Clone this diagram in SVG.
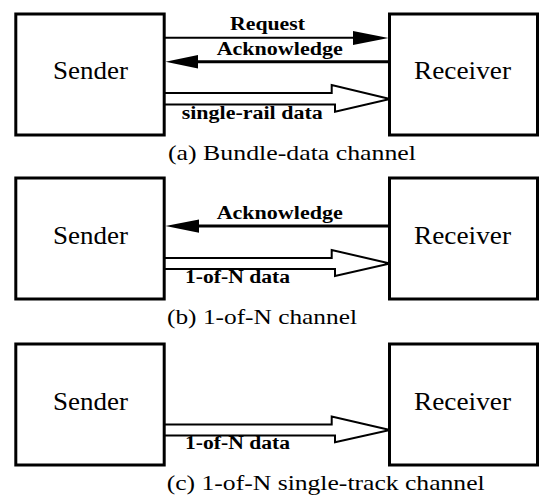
<svg xmlns="http://www.w3.org/2000/svg" width="539" height="500" viewBox="0 0 539 500">
<style>
.box{fill:#fff;stroke:#000;stroke-width:3}
text{font-family:'Liberation Serif','Times New Roman','DejaVu Serif',serif;fill:#000}
.name{font-size:25px}
.cap{font-size:22px}
.lbl{font-size:18px;font-weight:bold}
.thin{stroke:#000;stroke-width:2;fill:none}
.thick{stroke:#000;stroke-width:3;fill:none}
.head{fill:#000;stroke:none}
.hollow{fill:none;stroke:#000;stroke-width:2;stroke-linejoin:miter;stroke-miterlimit:10}
</style>
<rect width="539" height="500" fill="#fff"/>
<g id="connectors">
  <line class="thin" x1="165" y1="37.7" x2="355" y2="37.7"/>
  <polygon class="head" points="353,31 388.5,38 353,45"/>
  <line class="thick" x1="196" y1="61.7" x2="389" y2="61.7"/>
  <polygon class="head" points="165.5,61.7 198,55 198,68.4"/>
  <polyline class="hollow" points="165,93 331.7,93 331.7,85 390,99 335,111.7 335,104.5 165,104.5"/>
  <line class="thick" x1="196" y1="226" x2="389" y2="226"/>
  <polygon class="head" points="165.5,226 199,219.5 199,232.7"/>
  <polyline class="hollow" points="165,258 331.7,258 331.7,250 390,263.5 335,276 335,269 165,269"/>
  <polyline class="hollow" points="165,424.5 331.7,424.5 331.7,416.5 390,430 335,442.3 335,435.5 165,435.5"/>
</g>
<g id="labels">
  <text class="lbl" x="230" y="29.5" textLength="75" lengthAdjust="spacingAndGlyphs">Request</text>
  <text class="lbl" x="216.7" y="54.5" textLength="126" lengthAdjust="spacingAndGlyphs">Acknowledge</text>
  <text class="lbl" x="181.7" y="118.5" textLength="141" lengthAdjust="spacingAndGlyphs">single-rail data</text>
  <text class="lbl" x="216.7" y="218.5" textLength="126" lengthAdjust="spacingAndGlyphs">Acknowledge</text>
  <text class="lbl" x="185" y="282.5" textLength="105" lengthAdjust="spacingAndGlyphs">1-of-N data</text>
  <text class="lbl" x="185" y="448.5" textLength="105" lengthAdjust="spacingAndGlyphs">1-of-N data</text>
</g>
<g id="sender-a"><rect class="box" x="15.8" y="14" width="148.4" height="121"/><text class="name" x="53" y="79" textLength="75" lengthAdjust="spacingAndGlyphs">Sender</text></g>
<g id="receiver-a"><rect class="box" x="389.5" y="14" width="148" height="121"/><text class="name" x="414" y="79" textLength="97" lengthAdjust="spacingAndGlyphs">Receiver</text></g>
<g id="caption-a"><text class="cap" x="168" y="160" textLength="248" lengthAdjust="spacingAndGlyphs">(a) Bundle-data channel</text></g>
<g id="sender-b"><rect class="box" x="15.8" y="178" width="148.4" height="121"/><text class="name" x="53" y="243.5" textLength="75" lengthAdjust="spacingAndGlyphs">Sender</text></g>
<g id="receiver-b"><rect class="box" x="389.5" y="178" width="148" height="121"/><text class="name" x="414" y="243.5" textLength="97" lengthAdjust="spacingAndGlyphs">Receiver</text></g>
<g id="caption-b"><text class="cap" x="167" y="324" textLength="190" lengthAdjust="spacingAndGlyphs">(b) 1-of-N channel</text></g>
<g id="sender-c"><rect class="box" x="15.8" y="344" width="148.4" height="121"/><text class="name" x="53" y="409.5" textLength="75" lengthAdjust="spacingAndGlyphs">Sender</text></g>
<g id="receiver-c"><rect class="box" x="389.5" y="344" width="148" height="121"/><text class="name" x="414" y="409.5" textLength="97" lengthAdjust="spacingAndGlyphs">Receiver</text></g>
<g id="caption-c"><text class="cap" x="166.7" y="490" textLength="318" lengthAdjust="spacingAndGlyphs">(c) 1-of-N single-track channel</text></g>
</svg>
